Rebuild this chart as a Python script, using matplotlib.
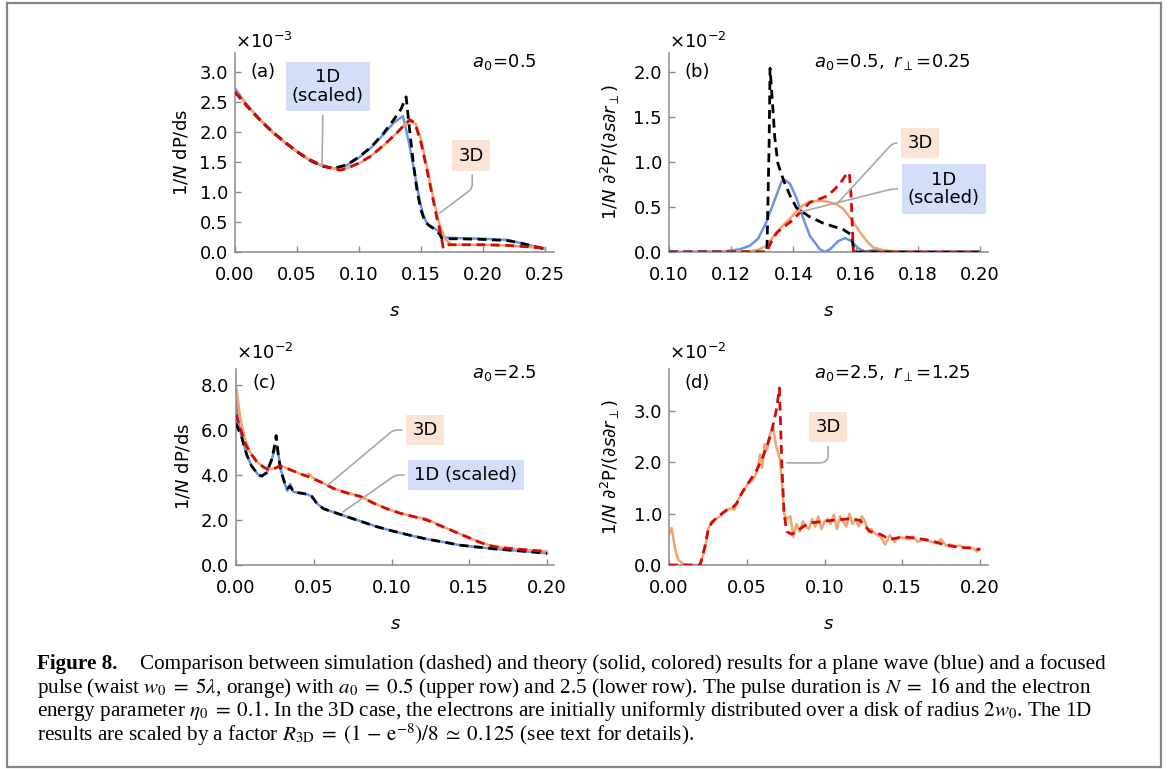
import matplotlib
matplotlib.use('Agg')
import matplotlib.pyplot as plt
from matplotlib.patches import Rectangle

# ---- data ----
# panel (a): a0 = 0.5, units of 1e-3
a_s_1d = [0.0, 0.01, 0.02, 0.03, 0.04, 0.05, 0.06, 0.07, 0.08, 0.09, 0.10, 0.11, 0.12, 0.128, 0.1355,
          0.14, 0.145, 0.149, 0.152, 0.155, 0.158, 0.161, 0.164, 0.167, 0.170, 0.18, 0.20, 0.22, 0.23, 0.24, 0.25]
a_v_1d = [2.72, 2.44, 2.2, 2.0, 1.82, 1.67, 1.53, 1.43, 1.39, 1.44, 1.57, 1.74, 1.96, 2.15, 2.26,
          1.85, 1.3, 0.85, 0.6, 0.47, 0.41, 0.39, 0.35, 0.28, 0.24, 0.23, 0.22, 0.2, 0.15, 0.1, 0.05]
a_s_1d_sim = [0.0, 0.01, 0.02, 0.03, 0.04, 0.05, 0.06, 0.07, 0.08, 0.09, 0.10, 0.11, 0.12, 0.128, 0.134,
              0.138, 0.141, 0.144, 0.147, 0.150, 0.153, 0.156, 0.159, 0.162, 0.165, 0.167, 0.18, 0.20,
              0.22, 0.23, 0.24, 0.25]
a_v_1d_sim = [2.66, 2.42, 2.2, 2.0, 1.83, 1.67, 1.53, 1.43, 1.39, 1.45, 1.58, 1.75, 1.98, 2.2, 2.38,
              2.58, 2.0, 1.45, 1.0, 0.7, 0.52, 0.45, 0.41, 0.36, 0.3, 0.22, 0.22, 0.21,
              0.19, 0.15, 0.1, 0.05]
a_s_3d = [0.0, 0.01, 0.02, 0.03, 0.04, 0.05, 0.06, 0.07, 0.08, 0.09, 0.10, 0.11, 0.12, 0.13, 0.137,
          0.142, 0.146, 0.15, 0.155, 0.16, 0.165, 0.17, 0.175, 0.18, 0.20, 0.22, 0.24, 0.25]
a_v_3d = [2.68, 2.44, 2.21, 2.01, 1.83, 1.67, 1.54, 1.44, 1.39, 1.39, 1.47, 1.6, 1.77, 1.97, 2.12,
          2.18, 2.12, 1.88, 1.4, 0.9, 0.45, 0.2, 0.12, 0.12, 0.12, 0.11, 0.08, 0.06]
a_s_3d_sim = [0.0, 0.01, 0.02, 0.03, 0.04, 0.05, 0.06, 0.07, 0.08, 0.085, 0.09, 0.10, 0.11, 0.12, 0.13,
              0.136, 0.141, 0.145, 0.15, 0.155, 0.16, 0.163, 0.166, 0.168, 0.170, 0.172, 0.18, 0.20,
              0.22, 0.24, 0.25]
a_v_3d_sim = [2.66, 2.42, 2.2, 2.0, 1.83, 1.67, 1.54, 1.44, 1.38, 1.36, 1.39, 1.48, 1.6, 1.78, 1.97,
              2.1, 2.2, 2.15, 1.82, 1.35, 0.85, 0.55, 0.3, 0.06, 0.1, 0.12, 0.12, 0.12,
              0.11, 0.08, 0.06]

# panel (b): a0 = 0.5, r_perp = 0.25, units of 1e-2
b_s_1d = [0.100, 0.1174, 0.1228, 0.126, 0.1287, 0.1313, 0.134, 0.1362, 0.1373, 0.1389, 0.141, 0.1431,
          0.1453, 0.1485, 0.1501, 0.1518, 0.1544, 0.1566, 0.1587, 0.1609, 0.163, 0.1657, 0.1684, 0.171, 0.200]
b_v_1d = [0.0, 0.005, 0.03, 0.07, 0.15, 0.33, 0.58, 0.78, 0.80, 0.76, 0.6, 0.38,
          0.18, 0.03, 0.0, 0.03, 0.12, 0.155, 0.12, 0.04, 0.005, 0.02, 0.01, 0.0, 0.0]
b_s_1d_sim = [0.100, 0.1315, 0.1322, 0.1325, 0.1333, 0.134, 0.135, 0.1368, 0.139, 0.141, 0.1453,
              0.1496, 0.156, 0.1587, 0.1595, 0.200]
b_v_1d_sim = [0.0, 0.0, 1.2, 2.04, 1.65, 1.28, 0.985, 0.8, 0.62, 0.49, 0.39,
              0.32, 0.25, 0.19, 0.0, 0.0]
b_s_3d = [0.100, 0.125, 0.1282, 0.1309, 0.1325, 0.1346, 0.1368, 0.1389, 0.141, 0.1431, 0.1453, 0.1485,
          0.1507, 0.1539, 0.156, 0.1576, 0.1593, 0.1614, 0.1636, 0.1657, 0.1689, 0.1732, 0.1816, 0.200]
b_v_3d = [0.0, 0.005, 0.02, 0.06, 0.12, 0.22, 0.3, 0.37, 0.45, 0.52, 0.56, 0.57,
          0.56, 0.53, 0.48, 0.41, 0.33, 0.22, 0.12, 0.05, 0.02, 0.005, 0.0, 0.0]
b_s_3d_sim = [0.100, 0.1314, 0.133, 0.1346, 0.1362, 0.1389, 0.141, 0.1431, 0.1453, 0.1485, 0.1507,
              0.1528, 0.155, 0.157, 0.158, 0.1586, 0.1593, 0.200]
b_v_3d_sim = [0.0, 0.0, 0.12, 0.21, 0.26, 0.33, 0.4, 0.47, 0.55, 0.59, 0.62,
              0.68, 0.76, 0.86, 0.88, 0.6, 0.0, 0.0]

# panel (c): a0 = 2.5, units of 1e-2
c_s_1d = [0.0, 0.0015, 0.0036, 0.0069, 0.010, 0.0144, 0.0165, 0.0197, 0.023, 0.0251, 0.0262, 0.0275,
          0.029, 0.0315, 0.033, 0.0348, 0.0369, 0.0412, 0.0455, 0.0487, 0.0519, 0.0562, 0.0627, 0.0712,
          0.0798, 0.0906, 0.1013, 0.112, 0.1227, 0.1335, 0.1442, 0.155, 0.1657, 0.1764, 0.1871, 0.200]
c_v_1d = [7.3, 6.4, 5.7, 4.9, 4.4, 4.0, 3.95, 4.1, 4.7, 5.2, 5.3, 4.8,
          4.2, 3.6, 3.3, 3.6, 3.25, 3.2, 3.15, 3.05, 2.75, 2.5, 2.35, 2.15,
          1.95, 1.7, 1.5, 1.32, 1.15, 1.02, 0.88, 0.8, 0.72, 0.66, 0.6, 0.52]
c_s_1d_sim = [0.0, 0.0036, 0.0069, 0.010, 0.0144, 0.0165, 0.0197, 0.023, 0.0251, 0.0258, 0.0272,
              0.0288, 0.0315, 0.033, 0.0348, 0.0369, 0.0412, 0.0455, 0.0487, 0.0519, 0.0562, 0.0627,
              0.0712, 0.0798, 0.0906, 0.1013, 0.112, 0.1227, 0.1335, 0.1442, 0.155, 0.1657, 0.1764,
              0.1871, 0.200]
c_v_1d_sim = [6.3, 5.7, 4.9, 4.4, 4.0, 3.95, 4.1, 4.7, 5.4, 5.75, 4.9,
              4.2, 3.6, 3.4, 3.5, 3.25, 3.2, 3.15, 3.05, 2.75, 2.5, 2.35,
              2.15, 1.95, 1.7, 1.5, 1.32, 1.15, 1.02, 0.88, 0.8, 0.72, 0.66,
              0.6, 0.52]
c_s_3d = [0.0, 0.0026, 0.0058, 0.009, 0.0133, 0.0176, 0.0208, 0.0251, 0.0283, 0.0326, 0.0412, 0.0455,
          0.047, 0.049, 0.0541, 0.0627, 0.0712, 0.0798, 0.0884, 0.097, 0.1056, 0.1142, 0.1227, 0.1313,
          0.1399, 0.1485, 0.1571, 0.1657, 0.1742, 0.1871, 0.200]
c_v_3d = [8.0, 6.6, 5.6, 5.0, 4.6, 4.35, 4.25, 4.3, 4.42, 4.3, 4.05, 3.98,
          4.05, 3.9, 3.7, 3.4, 3.22, 3.05, 2.75, 2.5, 2.3, 2.15, 2.05, 1.75,
          1.5, 1.25, 1.0, 0.82, 0.75, 0.67, 0.6]
c_s_3d_sim = [0.0, 0.0026, 0.0058, 0.009, 0.0133, 0.0176, 0.0208, 0.0251, 0.0283, 0.0326, 0.0412,
              0.0455, 0.0541, 0.0627, 0.0712, 0.0798, 0.0884, 0.097, 0.1056, 0.1142, 0.1227, 0.1313,
              0.1399, 0.1485, 0.1571, 0.1657, 0.1742, 0.1871, 0.200]
c_v_3d_sim = [6.7, 6.1, 5.4, 5.0, 4.6, 4.35, 4.25, 4.3, 4.4, 4.3, 4.05,
              3.95, 3.7, 3.4, 3.2, 3.05, 2.75, 2.5, 2.3, 2.15, 2.0, 1.75,
              1.5, 1.25, 1.0, 0.82, 0.75, 0.67, 0.6]

# panel (d): a0 = 2.5, r_perp = 1.25, units of 1e-2
d_s_3d = [0.0, 0.0017, 0.004, 0.006, 0.009, 0.012, 0.020, 0.023, 0.0253, 0.0274, 0.030, 0.033, 0.036,
          0.039, 0.042, 0.045, 0.048, 0.051, 0.054, 0.057, 0.0585, 0.060, 0.0615, 0.063, 0.0645, 0.0667,
          0.069, 0.0714, 0.0725, 0.074, 0.0757, 0.078, 0.080, 0.082, 0.084, 0.086, 0.088, 0.090, 0.092,
          0.094, 0.096, 0.098, 0.100, 0.102, 0.104, 0.106, 0.108, 0.110, 0.112, 0.114, 0.116, 0.118,
          0.120, 0.122, 0.124, 0.126, 0.128, 0.130, 0.133, 0.136, 0.139, 0.142, 0.145, 0.148, 0.151,
          0.154, 0.157, 0.160, 0.163, 0.166, 0.169, 0.172, 0.175, 0.178, 0.181, 0.184, 0.187, 0.190,
          0.193, 0.196, 0.198, 0.200]
d_v_3d = [0.6, 0.72, 0.3, 0.1, 0.02, 0.0, 0.0, 0.3, 0.7, 0.85, 0.9, 0.95, 1.05,
          1.1, 1.08, 1.3, 1.45, 1.6, 1.65, 1.85, 2.15, 1.9, 2.35, 2.25, 2.5, 2.72,
          2.3, 2.05, 1.6, 1.0, 0.9, 0.95, 0.55, 0.8, 0.65, 0.85, 0.75, 0.7, 0.9,
          0.75, 0.95, 0.7, 0.85, 0.9, 0.8, 0.98, 0.7, 0.95, 0.85, 0.75, 1.0, 0.8,
          0.9, 0.75, 0.95, 0.85, 0.65, 0.7, 0.6, 0.55, 0.4, 0.58, 0.45, 0.55, 0.52,
          0.5, 0.55, 0.45, 0.5, 0.48, 0.45, 0.42, 0.5, 0.38, 0.4, 0.36, 0.38, 0.33,
          0.35, 0.32, 0.26, 0.32]
d_s_3d_sim = [0.0, 0.020, 0.023, 0.0253, 0.0274, 0.0307, 0.0339, 0.0371, 0.0403, 0.0435, 0.0467, 0.050,
              0.0532, 0.0564, 0.0596, 0.0628, 0.066, 0.0692, 0.071, 0.0725, 0.074, 0.0757, 0.0789,
              0.0821, 0.0864, 0.0907, 0.0992, 0.1078, 0.1164, 0.1228, 0.1293, 0.1357, 0.1421, 0.1507,
              0.1593, 0.1678, 0.1764, 0.185, 0.1936, 0.200]
d_v_3d_sim = [0.0, 0.0, 0.35, 0.7, 0.82, 0.92, 1.0, 1.07, 1.1, 1.2, 1.4, 1.55,
              1.7, 1.85, 2.05, 2.3, 2.6, 3.05, 3.45, 2.0, 1.0, 0.65, 0.6,
              0.65, 0.75, 0.82, 0.85, 0.88, 0.9, 0.87, 0.65, 0.6, 0.5, 0.55,
              0.52, 0.48, 0.4, 0.35, 0.33, 0.3]

# ---- style ----
BLUE = '#6B93EA'
ORANGE = '#F0A46E'
RED = '#D20A0A'
BLACK = '#000000'
GRAY = '#8a8a8a'
LEAD = '#a8a8a8'
BOX_BLUE = '#D5DEF8'
BOX_ORANGE = '#F9E4D6'
FS = 13

plt.rcParams['font.family'] = ['DejaVu Sans']
plt.rcParams['mathtext.fontset'] = 'dejavusans'

W, H = 1174, 769
fig = plt.figure(figsize=(W / 100, H / 100), dpi=100)

# outer frame
fig.patches.append(Rectangle((7 / W, 2 / H), 1154 / W, 764 / H, transform=fig.transFigure,
                             fill=False, ec='#858585', lw=1.6))


def make_axes(px_left, px_bottom, px_w, px_h):
    ax = fig.add_axes([px_left / W, 1 - px_bottom / H, px_w / W, px_h / H])
    for side in ['top', 'right']:
        ax.spines[side].set_visible(False)
    for side in ['left', 'bottom']:
        ax.spines[side].set_color(GRAY)
        ax.spines[side].set_linewidth(1.1)
    ax.tick_params(direction='in', length=4, width=1, color=GRAY, labelsize=FS, pad=5)
    ax.tick_params(axis='x', pad=10)
    return ax


def solid(ax, s, v, c):
    ax.plot(s, v, color=c, lw=1.8, solid_joinstyle='round', zorder=2)


def dashed(ax, s, v, c):
    ax.plot(s, v, color=c, lw=2.0, linestyle=(0, (3.2, 2.0)), zorder=3)


def label(ax, text, xy, xytext, fc, conn, relpos):
    ax.annotate(text, xy=xy, xytext=xytext, fontsize=FS, ha='center', va='center',
                linespacing=1.05,
                bbox=dict(boxstyle='square,pad=0.35', fc=fc, ec='none'),
                arrowprops=dict(arrowstyle='-', color=LEAD, lw=1.2, shrinkA=3, shrinkB=0,
                                relpos=relpos, connectionstyle=conn),
                zorder=5)


def decorate(ax, exp, tag, par, ytop):
    ax.text(0.0, ytop, r'$\times10^{%d}$' % exp, transform=ax.transAxes, fontsize=FS,
            ha='left', va='center')
    ax.text(0.088, ytop - 0.15, tag, transform=ax.transAxes, fontsize=FS, ha='center', va='center')
    ax.text(0.946, ytop - 0.1, par, transform=ax.transAxes, fontsize=FS, ha='right', va='center')
    ax.set_xlabel(r'$s$', fontsize=FS, labelpad=13)


# ---- (a) ----
ax = make_axes(235, 252, 319, 199)
solid(ax, a_s_1d, a_v_1d, BLUE)
solid(ax, a_s_3d, a_v_3d, ORANGE)
dashed(ax, a_s_1d_sim, a_v_1d_sim, BLACK)
dashed(ax, a_s_3d_sim, a_v_3d_sim, RED)
ax.set_xlim(0, 0.2573)
ax.set_ylim(0, 3.31)
ax.set_xticks([0.0, 0.05, 0.10, 0.15, 0.20, 0.25])
ax.set_xticklabels(['%.2f' % t for t in [0.0, 0.05, 0.10, 0.15, 0.20, 0.25]])
ax.set_yticks([0.0, 0.5, 1.0, 1.5, 2.0, 2.5, 3.0])
ax.set_yticklabels(['%.1f' % t for t in [0.0, 0.5, 1.0, 1.5, 2.0, 2.5, 3.0]])
ax.set_ylabel(r'1/$N$ dP/ds', fontsize=FS, labelpad=6)
decorate(ax, -3, '(a)', r'$a_0\!=\!0.5$', 1.055)
label(ax, '1D\n(scaled)', (0.0702, 1.43), (0.0750, 2.75), BOX_BLUE, 'arc3', (0.43, 0))
label(ax, '3D', (0.1653, 0.65), (0.1903, 1.60), BOX_ORANGE,
      'angle,angleA=90,angleB=37,rad=4', (0.55, 0))

# ---- (b) ----
ax = make_axes(669, 252, 319, 199)
solid(ax, b_s_1d, b_v_1d, BLUE)
solid(ax, b_s_3d, b_v_3d, ORANGE)
dashed(ax, b_s_1d_sim, b_v_1d_sim, BLACK)
dashed(ax, b_s_3d_sim, b_v_3d_sim, RED)
ax.set_xlim(0.1, 0.2026)
ax.set_ylim(0, 2.21)
ax.set_xticks([0.10, 0.12, 0.14, 0.16, 0.18, 0.20])
ax.set_xticklabels(['%.2f' % t for t in [0.10, 0.12, 0.14, 0.16, 0.18, 0.20]])
ax.set_yticks([0.0, 0.5, 1.0, 1.5, 2.0])
ax.set_yticklabels(['%.1f' % t for t in [0.0, 0.5, 1.0, 1.5, 2.0]])
ax.set_ylabel(r'1/$N\ \partial^2$P/($\partial s\partial r_\perp$)', fontsize=FS, labelpad=8)
decorate(ax, -2, '(b)', r'$a_0\!=\!0.5,\ r_\perp\!=\!0.25$', 1.055)
label(ax, '3D', (0.1543, 0.544), (0.1807, 1.21), BOX_ORANGE,
      'angle,angleA=0,angleB=47.5,rad=4', (0, 0.5))
label(ax, '1D\n(scaled)', (0.1421, 0.444), (0.1884, 0.70), BOX_BLUE,
      'angle,angleA=0,angleB=14,rad=4', (0, 0.5))

# ---- (c) ----
ax = make_axes(236, 565, 318, 196)
solid(ax, c_s_1d, c_v_1d, BLUE)
solid(ax, c_s_3d, c_v_3d, ORANGE)
dashed(ax, c_s_1d_sim, c_v_1d_sim, BLACK)
dashed(ax, c_s_3d_sim, c_v_3d_sim, RED)
ax.set_xlim(0, 0.2045)
ax.set_ylim(0, 8.71)
ax.set_xticks([0.0, 0.05, 0.10, 0.15, 0.20])
ax.set_xticklabels(['%.2f' % t for t in [0.0, 0.05, 0.10, 0.15, 0.20]])
ax.set_yticks([0.0, 2.0, 4.0, 6.0, 8.0])
ax.set_yticklabels(['%.1f' % t for t in [0.0, 2.0, 4.0, 6.0, 8.0]])
ax.set_ylabel(r'1/$N$ dP/ds', fontsize=FS, labelpad=6)
decorate(ax, -2, '(c)', r'$a_0\!=\!2.5$', 1.08)
label(ax, '3D', (0.0592, 3.56), (0.1215, 6.0), BOX_ORANGE,
      'angle,angleA=0,angleB=40,rad=4', (0, 0.5))
label(ax, '1D (scaled)', (0.0688, 2.36), (0.1479, 4.0), BOX_BLUE,
      'angle,angleA=0,angleB=35,rad=4', (0, 0.5))

# ---- (d) ----
ax = make_axes(669, 565, 319, 196)
solid(ax, d_s_3d, d_v_3d, ORANGE)
dashed(ax, d_s_3d_sim, d_v_3d_sim, RED)
ax.set_xlim(0, 0.2051)
ax.set_ylim(0, 3.82)
ax.set_xticks([0.0, 0.05, 0.10, 0.15, 0.20])
ax.set_xticklabels(['%.2f' % t for t in [0.0, 0.05, 0.10, 0.15, 0.20]])
ax.set_yticks([0.0, 1.0, 2.0, 3.0])
ax.set_yticklabels(['%.1f' % t for t in [0.0, 1.0, 2.0, 3.0]])
ax.set_ylabel(r'1/$N\ \partial^2$P/($\partial s\partial r_\perp$)', fontsize=FS, labelpad=8)
decorate(ax, -2, '(d)', r'$a_0\!=\!2.5,\ r_\perp\!=\!1.25$', 1.08)
label(ax, '3D', (0.0759, 1.99), (0.1023, 2.69), BOX_ORANGE,
      'angle,angleA=90,angleB=0,rad=8', (0.5, 0))

# ---- caption ----
cap_font = dict(family='Liberation Serif', fontsize=15.2, math_fontfamily='stix', va='center', ha='left')
fig.text(37 / W, 1 - 664 / H, 'Figure 8.', fontweight='bold', **cap_font)
cap_lines = [
    'Comparison between simulation (dashed) and theory (solid, colored) results for a plane wave (blue) and a focused',
    r'pulse (waist $w_0\;=\;5\lambda$, orange) with $a_0\;=\;0.5$ (upper row) and 2.5 (lower row). The pulse duration is $N\;=\;16$ and the electron',
    r'energy parameter $\eta_0\;=\;0.1$. In the 3D case, the electrons are initially uniformly distributed over a disk of radius $2w_0$. The 1D',
    r'results are scaled by a factor $R_{\rm 3D}\;=\;(1\,-\,{\rm e}^{-8})/8\;\simeq\;0.125$ (see text for details).',
]
cap_x = [140, 37, 37, 37]
cap_y = [664, 688, 711, 735]
for txt, x, y in zip(cap_lines, cap_x, cap_y):
    fig.text(x / W, 1 - y / H, txt, **cap_font)

fig.savefig('out.png', dpi=100)
